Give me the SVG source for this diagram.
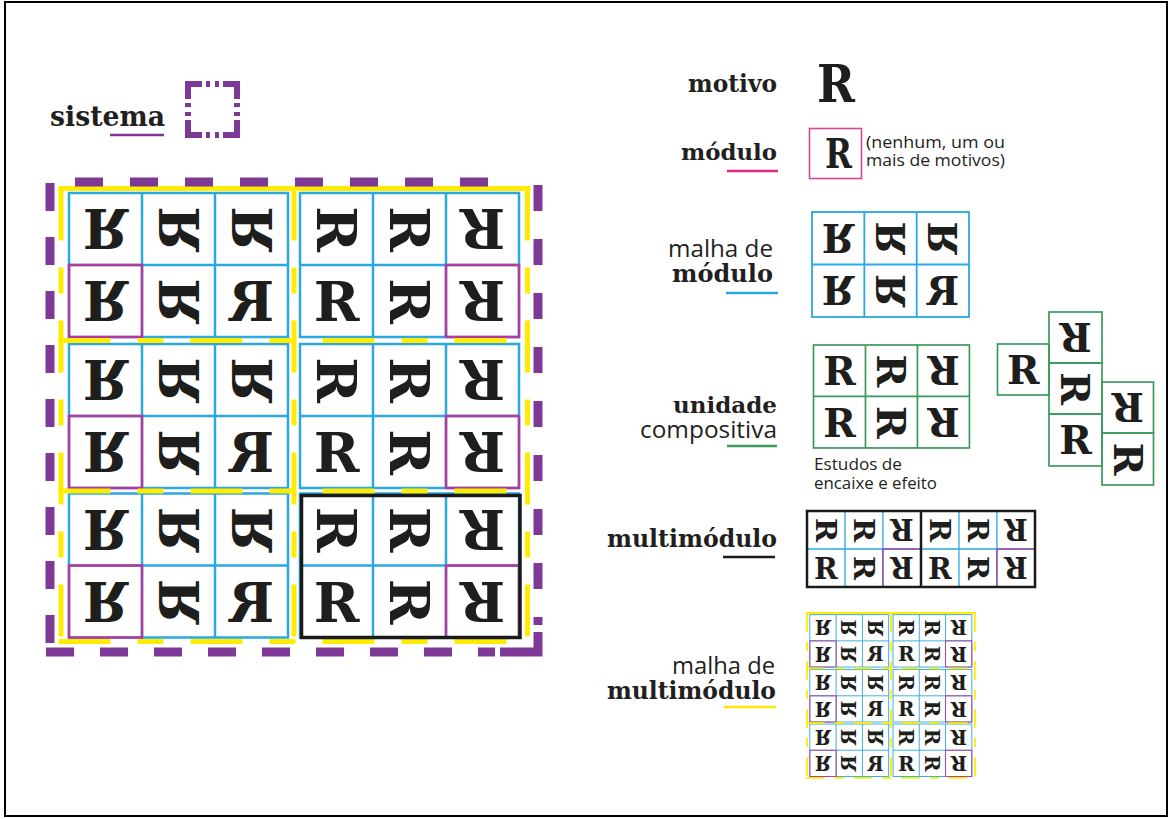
<svg xmlns="http://www.w3.org/2000/svg" width="1171" height="819" viewBox="0 0 1171 819">
<style>
.rg{font-family:"DejaVu Serif","Liberation Serif",serif;font-weight:bold;fill:#1e1e1c}
.lb{font-family:"DejaVu Serif","Liberation Serif",serif;font-weight:bold;fill:#231f20}
.sn{font-family:"Open Sans","Noto Sans",sans-serif;fill:#231f20}
.bl{fill:none;stroke:#29a9e0;stroke-width:2.5}
.mg{fill:none;stroke:#b2399d;stroke-width:2.5}
.yl{fill:none;stroke:#ffec00;stroke-width:5}
.yd{stroke-dasharray:52 27 26 27}
.pu{fill:none;stroke:#7e3895;stroke-width:9}
.gc{fill:none;stroke:#3b9b5d;stroke-width:1.7}
</style>
<defs>
  <text id="gN" class="rg" x="0" y="20" font-size="55" text-anchor="middle">R</text>
  <use id="gS" href="#gN" transform="rotate(90)"/>
  <use id="gU" href="#gN" transform="rotate(180)"/>
  <g id="glyphsR">
    <use href="#gS" x="36.5" y="36"/>
    <use href="#gS" x="109.5" y="36"/>
    <use href="#gU" x="182.5" y="36"/>
    <use href="#gN" x="36.5" y="108"/>
    <use href="#gS" x="109.5" y="108"/>
    <use href="#gU" x="182.5" y="108"/>
  </g>
  <g id="glyphsC">
    <use href="#gN" x="36.5" y="36"/>
    <use href="#gS" x="109.5" y="36"/>
    <use href="#gU" x="182.5" y="36"/>
    <use href="#gN" x="36.5" y="108"/>
    <use href="#gS" x="109.5" y="108"/>
    <use href="#gU" x="182.5" y="108"/>
  </g>
  <g id="gridB" class="bl"><rect width="219" height="144"/><path d="M73,0V144M146,0V144M0,72H219"/></g>
  <g id="gridG" fill="none" stroke="#3b9b5d" stroke-width="2.4"><rect width="219" height="144"/><path d="M73,0V144M146,0V144M0,72H219"/></g>
  <g id="halfR"><use href="#glyphsR"/><use href="#gridB"/><rect class="mg" x="146" y="72" width="73" height="72"/></g>
  <g id="halfL"><use href="#halfR" transform="translate(219,0) scale(-1,1)"/></g>
  <g id="system">
    <use href="#halfL" x="69" y="193"/>
    <use href="#halfR" x="300" y="193"/>
    <use href="#halfL" x="69" y="344"/>
    <use href="#halfR" x="300" y="344"/>
    <use href="#halfL" x="69" y="493.5"/>
    <use href="#halfR" x="300" y="493.5"/>
    <path class="yl" d="M58.5,188.5H530.5"/>
    <path class="yl yd" d="M61,188.5V642M294,188.5V642M527.5,188.5V642"/>
    <path class="yl yd" d="M58.5,340.5H530.5M58.5,491H530.5M58.5,641.5H530.5"/>
  </g>
</defs>

<rect width="1171" height="819" fill="#fff"/>
<rect x="5" y="2" width="1162" height="814" fill="none" stroke="#000" stroke-width="2"/>

<g id="sistema-label">
  <text class="lb" x="50" y="126" font-size="28" textLength="115" lengthAdjust="spacingAndGlyphs">sistema</text>
  <path d="M110,135H164" stroke="#7e3895" stroke-width="2.5"/>
  <g fill="none" stroke="#7e3895" stroke-width="6">
    <path d="M188,99V84H202M223,84H237V99M237,120V135H223M202,135H188V120"/>
    <path d="M206,84H210M215,84H219M206,135H210M215,135H219M188,103V107M188,112V116M237,103V107M237,112V116"/>
  </g>
</g>

<g id="sistema-grid">
  <use href="#system"/>
  <path class="pu" d="M50,183V652" stroke-dasharray="28 26"/>
  <path class="pu" d="M75,182H515" stroke-dasharray="28 27"/>
  <path class="pu" d="M538,185V625" stroke-dasharray="26 28"/>
  <path class="pu" d="M46,652H495" stroke-dasharray="28 26"/>
  <path class="pu" d="M500,652H538V632"/>
  <rect x="301.5" y="495.5" width="218.5" height="142" fill="none" stroke="#1a1a1a" stroke-width="3.5"/>
</g>

<g id="motivo">
  <text class="lb" x="777" y="92" font-size="24" text-anchor="end" textLength="89" lengthAdjust="spacingAndGlyphs">motivo</text>
  <text class="rg" x="836" y="102" font-size="53" text-anchor="middle" textLength="38" lengthAdjust="spacingAndGlyphs">R</text>
</g>

<g id="modulo">
  <text class="lb" x="777" y="160" font-size="23" text-anchor="end" textLength="96" lengthAdjust="spacingAndGlyphs">módulo</text>
  <path d="M727,171H778" stroke="#e0268c" stroke-width="2.5"/>
  <rect x="809.5" y="128.5" width="52" height="50" fill="none" stroke="#d3479a" stroke-width="1.6"/>
  <text class="rg" x="838.5" y="168" font-size="41" text-anchor="middle" textLength="27" lengthAdjust="spacingAndGlyphs">R</text>
  <text class="sn" x="866" y="148" font-size="17" textLength="139" lengthAdjust="spacingAndGlyphs">(nenhum, um ou</text>
  <text class="sn" x="866" y="166" font-size="17" textLength="139" lengthAdjust="spacingAndGlyphs">mais de motivos)</text>
</g>

<g id="malha-de-modulo">
  <text class="sn" x="773" y="257" font-size="24" text-anchor="end" textLength="105" lengthAdjust="spacingAndGlyphs">malha de</text>
  <text class="lb" x="773" y="282" font-size="24" text-anchor="end" textLength="101" lengthAdjust="spacingAndGlyphs">módulo</text>
  <path d="M726,293H778" stroke="#29a9e0" stroke-width="2.5"/>
  <g transform="translate(812,212) scale(0.717,0.729)">
    <g transform="translate(219,0) scale(-1,1)"><use href="#glyphsR"/></g>
    <use href="#gridB"/>
  </g>
</g>

<g id="unidade-compositiva">
  <text class="lb" x="777" y="413" font-size="23" text-anchor="end" textLength="104" lengthAdjust="spacingAndGlyphs">unidade</text>
  <text class="sn" x="777" y="438" font-size="24" text-anchor="end" textLength="137" lengthAdjust="spacingAndGlyphs">compositiva</text>
  <path d="M727,446H777" stroke="#3b9b5d" stroke-width="2.5"/>
  <g transform="translate(813.5,345) scale(0.712,0.715)">
    <use href="#glyphsC"/>
    <use href="#gridG"/>
  </g>
  <text class="sn" x="814" y="470" font-size="16" textLength="88" lengthAdjust="spacingAndGlyphs">Estudos de</text>
  <text class="sn" x="814" y="489" font-size="16" textLength="123" lengthAdjust="spacingAndGlyphs">encaixe e efeito</text>
</g>

<g id="encaixe">
  <use href="#gN" transform="translate(1023.3,369.5) scale(0.712,0.715)"/>
  <use href="#gU" transform="translate(1075.5,337.5) scale(0.712,0.715)"/>
  <use href="#gS" transform="translate(1075.5,388.5) scale(0.712,0.715)"/>
  <use href="#gN" transform="translate(1075.5,440) scale(0.712,0.715)"/>
  <use href="#gU" transform="translate(1127.8,407.5) scale(0.712,0.715)"/>
  <use href="#gS" transform="translate(1127.8,459) scale(0.712,0.715)"/>
  <rect class="gc" x="997.5" y="344" width="51.5" height="51"/>
  <rect class="gc" x="1049" y="312" width="53" height="51"/>
  <rect class="gc" x="1049" y="363" width="53" height="51"/>
  <rect class="gc" x="1049" y="414" width="53" height="52"/>
  <rect class="gc" x="1102" y="382" width="51.5" height="51"/>
  <rect class="gc" x="1102" y="433" width="51.5" height="52"/>
</g>

<g id="multimodulo">
  <text class="lb" x="777" y="547" font-size="24" text-anchor="end" textLength="170" lengthAdjust="spacingAndGlyphs">multimódulo</text>
  <path d="M723,557H775" stroke="#1a1a1a" stroke-width="2.5"/>
  <use href="#halfR" transform="translate(807,511) scale(0.52,0.528)"/>
  <use href="#halfR" transform="translate(921,511) scale(0.52,0.528)"/>
  <rect x="807" y="511" width="228" height="76" fill="none" stroke="#1a1a1a" stroke-width="2.5"/>
  <path d="M921,511V587" stroke="#1a1a1a" stroke-width="2.5"/>
</g>

<g id="malha-de-multimodulo">
  <text class="sn" x="775" y="674" font-size="24" text-anchor="end" textLength="103" lengthAdjust="spacingAndGlyphs">malha de</text>
  <text class="lb" x="776" y="699" font-size="24" text-anchor="end" textLength="169" lengthAdjust="spacingAndGlyphs">multimódulo</text>
  <path d="M724,707H776" stroke="#ffe600" stroke-width="2.5"/>
  <use href="#system" transform="translate(785,544.4) scale(0.36,0.364)"/>
</g>
</svg>
